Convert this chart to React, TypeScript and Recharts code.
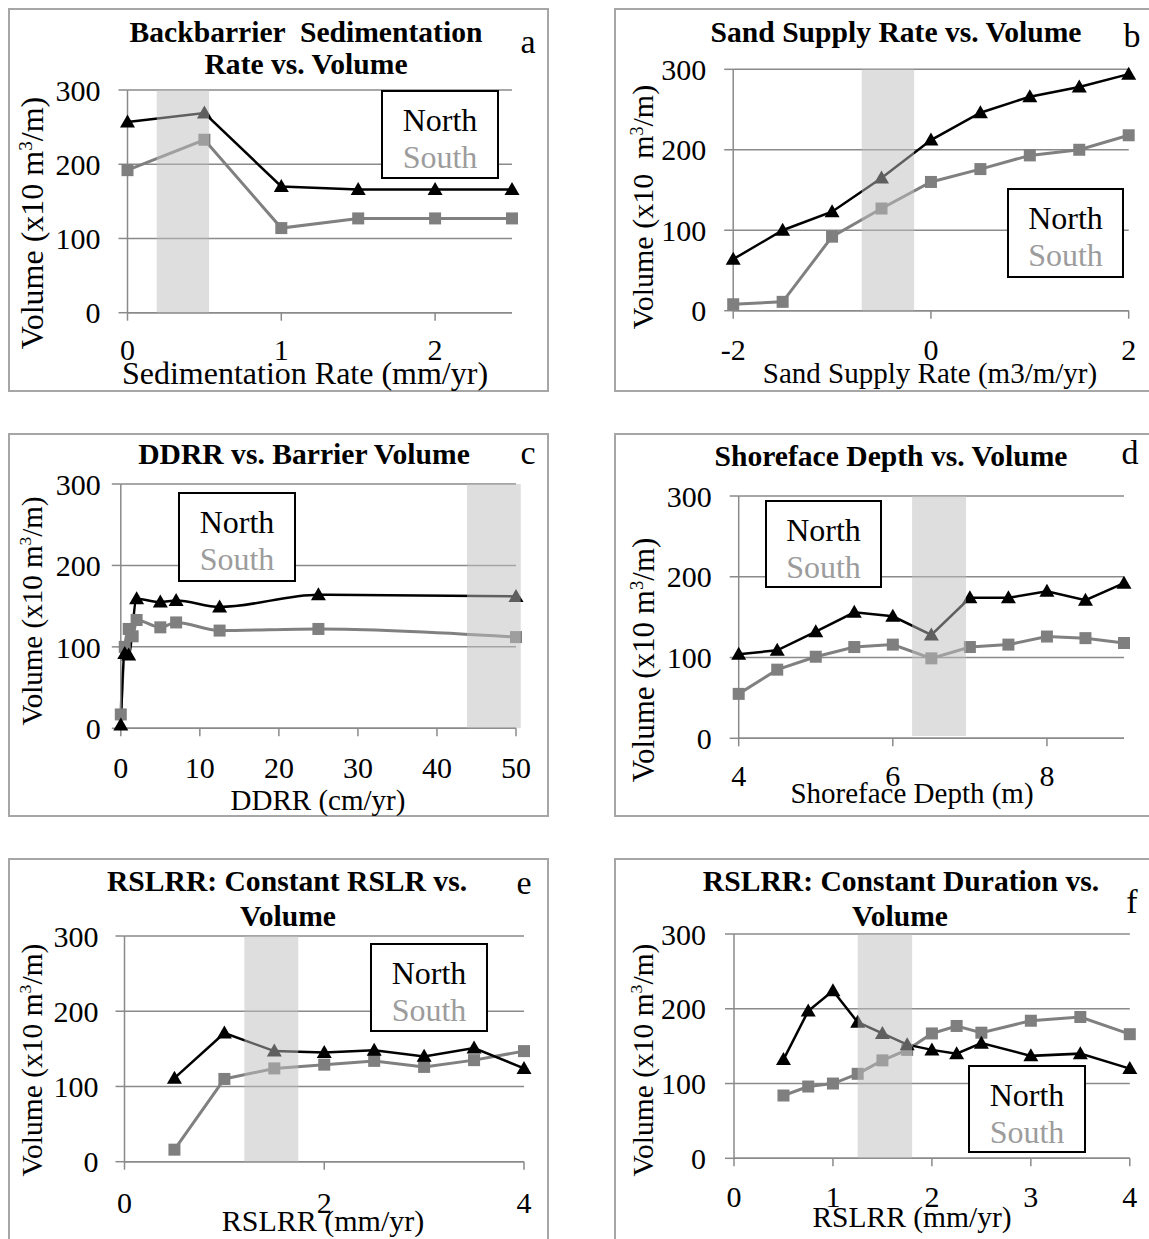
import React from "react"
import { LineChart, Line, XAxis, YAxis, CartesianGrid, ReferenceArea } from "recharts"

// ---- data (Volume, x10 m3/m) ----
// a: backbarrier sedimentation rate (mm/yr)
const aX = [0, 0.5, 1, 1.5, 2, 2.5]
const aNorth = [257, 269, 170, 166, 166, 166]
const aSouth = [192, 233, 114, 127, 127, 127]

// b: sand supply rate (m3/m/yr)
const bX = [-2, -1.5, -1, -0.5, 0, 0.5, 1, 1.5, 2]
const bNorth = [64, 100, 123, 165, 212, 246, 266, 278, 294]
const bSouth = [8, 11, 92, 127, 160, 176, 193, 200, 218]

// c: DDRR (cm/yr)
const cNorthX = [0, 0.5, 1, 2, 5, 7, 12.5, 25, 50]
const cNorth = [4, 92, 90, 159, 155, 157, 149, 164, 162]
const cSouthX = [0, 0.5, 1, 1.5, 2, 5, 7, 12.5, 25, 50]
const cSouth = [17, 100, 122, 113, 133, 124, 130, 120, 122, 112]

// d: shoreface depth (m)
const dX = [4, 4.5, 5, 5.5, 6, 6.5, 7, 7.5, 8, 8.5, 9]
const dNorth = [104, 109, 132, 156, 151, 128, 174, 174, 182, 171, 192]
const dSouth = [55, 85, 101, 113, 116, 99, 113, 116, 126, 124, 118]

// e: RSLRR, constant RSLR (mm/yr)
const eX = [0.5, 1, 1.5, 2, 2.5, 3, 3.5, 4]
const eNorth = [111, 171, 147, 145, 148, 140, 151, 124]
const eSouth = [16, 110, 124, 129, 134, 126, 135, 147]

// f: RSLRR, constant duration (mm/yr)
const fX = [0.5, 0.75, 1, 1.25, 1.5, 1.75, 2, 2.25, 2.5, 3, 3.5, 4]
const fNorth = [132, 197, 224, 182, 167, 152, 145, 140, 154, 137, 140, 120]
const fSouth = [84, 96, 100, 113, 131, 145, 167, 177, 168, 184, 189, 166]

const yTicks = [0, 100, 200, 300]

const FONT = "'Liberation Serif', 'Times New Roman', serif"
const GRID = "#8a8a8a"
const NORTH = "#000000"
const SOUTH = "#808080"

const zip = (xs: number[], vs: number[]) => xs.map((x, i) => ({ x, v: vs[i] }))

const Tri = (p: any) => {
  const { cx, cy } = p
  if (cx == null || cy == null) return <g key={p.key} />
  return (
    <polygon
      key={`t-${cx}-${cy}`}
      points={`${cx},${cy - 7.5} ${cx - 7.5},${cy + 5.5} ${cx + 7.5},${cy + 5.5}`}
      fill={NORTH}
    />
  )
}

const Sq = (p: any) => {
  const { cx, cy } = p
  if (cx == null || cy == null) return <g key={p.key} />
  return <rect key={`s-${cx}-${cy}`} x={cx - 6} y={cy - 6} width={12} height={12} fill="#7f7f7f" />
}

type Box = { x: number; y: number; w: number; h: number }

type PanelCfg = {
  box: Box
  plot: { left: number; right: number; top: number; bottom: number }
  xDomain: [number, number]
  xTicks: number[]
  band: [number, number, number]
  north: { x: number; v: number }[]
  south: { x: number; v: number }[]
  smooth?: boolean
  xTickMargin: number
  yTickMargin: number
  title: { text: string; x: number; y: number }[]
  letter: { text: string; x: number; y: number }
  legend: Box
  xTitle: { text: string; x: number; y: number; size: number }
  yTitle: { x: number; y: number; size: number; gap?: boolean }
}

const panels: PanelCfg[] = [
  {
    box: { x: 8, y: 8, w: 541, h: 384 },
    plot: { left: 127.5, right: 512, top: 90, bottom: 312.7 },
    xDomain: [0, 2.5],
    xTicks: [0, 1, 2],
    band: [0.19, 0.53, 0],
    north: zip(aX, aNorth),
    south: zip(aX, aSouth),
    xTickMargin: 18,
    yTickMargin: 18,
    title: [
      { text: "Backbarrier  Sedimentation", x: 306, y: 33 },
      { text: "Rate vs. Volume", x: 306, y: 65 },
    ],
    letter: { text: "a", x: 528, y: 42 },
    legend: { x: 381, y: 90, w: 118, h: 89 },
    xTitle: { text: "Sedimentation Rate (mm/yr)", x: 305, y: 373, size: 32 },
    yTitle: { x: 29, y: 223, size: 32 },
  },
  {
    box: { x: 614, y: 8, w: 545, h: 384 },
    plot: { left: 733.2, right: 1128.7, top: 69.3, bottom: 310.7 },
    xDomain: [-2, 2],
    xTicks: [-2, 0, 2],
    band: [-0.7, -0.17, 0],
    north: zip(bX, bNorth),
    south: zip(bX, bSouth),
    xTickMargin: 20,
    yTickMargin: 18,
    title: [{ text: "Sand Supply Rate vs. Volume", x: 896, y: 33 }],
    letter: { text: "b", x: 1132, y: 36 },
    legend: { x: 1007, y: 188, w: 117, h: 90 },
    xTitle: { text: "Sand Supply Rate (m3/m/yr)", x: 930, y: 373, size: 29 },
    yTitle: { x: 640, y: 207, size: 30, gap: true },
  },
  {
    box: { x: 8, y: 433, w: 541, h: 384 },
    plot: { left: 120.8, right: 516, top: 484, bottom: 728.3 },
    xDomain: [0, 50],
    xTicks: [0, 10, 20, 30, 40, 50],
    band: [43.8, 50.6, 0],
    north: zip(cNorthX, cNorth),
    south: zip(cSouthX, cSouth),
    smooth: true,
    xTickMargin: 20,
    yTickMargin: 11,
    title: [{ text: "DDRR vs. Barrier Volume", x: 304, y: 455 }],
    letter: { text: "c", x: 528, y: 453 },
    legend: { x: 178, y: 492, w: 118, h: 90 },
    xTitle: { text: "DDRR (cm/yr)", x: 318, y: 800, size: 29 },
    yTitle: { x: 29, y: 611, size: 29 },
  },
  {
    box: { x: 614, y: 433, w: 545, h: 384 },
    plot: { left: 738.7, right: 1124, top: 496, bottom: 738.3 },
    xDomain: [4, 9],
    xTicks: [4, 6, 8],
    band: [6.25, 6.95, 3],
    north: zip(dX, dNorth),
    south: zip(dX, dSouth),
    xTickMargin: 18,
    yTickMargin: 18,
    title: [{ text: "Shoreface Depth vs. Volume", x: 891, y: 457 }],
    letter: { text: "d", x: 1130, y: 453 },
    legend: { x: 765, y: 500, w: 117, h: 88 },
    xTitle: { text: "Shoreface Depth (m)", x: 912, y: 793, size: 29 },
    yTitle: { x: 640, y: 660, size: 31 },
  },
  {
    box: { x: 8, y: 858, w: 541, h: 400 },
    plot: { left: 124.5, right: 524, top: 936, bottom: 1161.7 },
    xDomain: [0, 4],
    xTicks: [0, 2, 4],
    band: [1.2, 1.74, 0],
    north: zip(eX, eNorth),
    south: zip(eX, eSouth),
    xTickMargin: 22,
    yTickMargin: 17,
    title: [
      { text: "RSLRR: Constant RSLR vs.", x: 287, y: 882 },
      { text: "Volume", x: 288, y: 917 },
    ],
    letter: { text: "e", x: 524, y: 883 },
    legend: { x: 370, y: 943, w: 118, h: 89 },
    xTitle: { text: "RSLRR (mm/yr)", x: 323, y: 1221, size: 30 },
    yTitle: { x: 29, y: 1060, size: 29.5 },
  },
  {
    box: { x: 614, y: 858, w: 545, h: 400 },
    plot: { left: 734, right: 1129.8, top: 934, bottom: 1158.3 },
    xDomain: [0, 4],
    xTicks: [0, 1, 2, 3, 4],
    band: [1.25, 1.8, 0],
    north: zip(fX, fNorth),
    south: zip(fX, fSouth),
    xTickMargin: 19,
    yTickMargin: 19,
    title: [
      { text: "RSLRR: Constant Duration vs.", x: 901, y: 882 },
      { text: "Volume", x: 900, y: 917 },
    ],
    letter: { text: "f", x: 1132, y: 902 },
    legend: { x: 968, y: 1065, w: 118, h: 88 },
    xTitle: { text: "RSLRR (mm/yr)", x: 912, y: 1218, size: 29.5 },
    yTitle: { x: 640, y: 1060, size: 29.5 },
  },
]

function Txt({ x, y, size, bold, color, children }: any) {
  return (
    <div
      style={{
        position: "absolute",
        left: x,
        top: y - size / 2,
        transform: "translateX(-50%)",
        fontSize: size,
        lineHeight: `${size}px`,
        fontWeight: bold ? "bold" : "normal",
        color: color || "#000",
        whiteSpace: "pre",
      }}
    >
      {children}
    </div>
  )
}

function Panel({ cfg }: { cfg: PanelCfg }) {
  const { box, plot } = cfg
  const margin = { top: plot.top - box.y, right: box.x + box.w - plot.right, left: 0, bottom: 0 }
  const yW = plot.left - box.x
  const xH = box.y + box.h - plot.bottom
  const tick = { fontSize: 30, fill: "#000", fontFamily: FONT }
  const kind = cfg.smooth ? "monotone" : "linear"

  return (
    <>
      <div
        style={{
          position: "absolute",
          left: box.x,
          top: box.y,
          width: box.w,
          height: box.h,
          border: "2px solid #a6a6a6",
          boxSizing: "border-box",
        }}
      />
      <div style={{ position: "absolute", left: box.x, top: box.y }}>
        <LineChart width={box.w} height={box.h} margin={margin}>
          <CartesianGrid vertical={false} stroke={GRID} strokeWidth={1.5} />
          <XAxis
            type="number"
            dataKey="x"
            domain={cfg.xDomain}
            ticks={cfg.xTicks}
            interval={0}
            height={xH}
            tickSize={8}
            tickMargin={cfg.xTickMargin}
            tick={tick}
            axisLine={{ stroke: GRID, strokeWidth: 1.5 }}
            tickLine={{ stroke: GRID, strokeWidth: 1.5 }}
          />
          <YAxis
            type="number"
            domain={[0, 300]}
            ticks={yTicks}
            interval={0}
            width={yW}
            tickSize={9}
            tickMargin={cfg.yTickMargin}
            tick={tick}
            axisLine={{ stroke: GRID, strokeWidth: 1.5 }}
            tickLine={{ stroke: GRID, strokeWidth: 1.5 }}
          />
          <Line
            data={cfg.south}
            dataKey="v"
            type={kind}
            stroke={SOUTH}
            strokeWidth={3}
            dot={Sq}
            activeDot={false}
            isAnimationActive={false}
          />
          <Line
            data={cfg.north}
            dataKey="v"
            type={kind}
            stroke={NORTH}
            strokeWidth={2.5}
            dot={Tri}
            activeDot={false}
            isAnimationActive={false}
          />
          <ReferenceArea
            x1={cfg.band[0]}
            x2={cfg.band[1]}
            y1={cfg.band[2]}
            y2={300}
            fill="#bdbdbd"
            fillOpacity={0.5}
            stroke="none"
            ifOverflow="visible"
            {...({ zIndex: 900 } as any)}
          />
        </LineChart>
      </div>

      {cfg.title.map((t) => (
        <Txt key={t.text} x={t.x} y={t.y} size={29.6} bold>
          {t.text}
        </Txt>
      ))}
      <Txt x={cfg.letter.x} y={cfg.letter.y} size={34}>
        {cfg.letter.text}
      </Txt>

      {/* legend box */}
      <div
        style={{
          position: "absolute",
          left: cfg.legend.x,
          top: cfg.legend.y,
          width: cfg.legend.w,
          height: cfg.legend.h,
          border: "2px solid #000",
          boxSizing: "border-box",
          background: "#fff",
        }}
      />
      <Txt x={cfg.legend.x + cfg.legend.w / 2} y={cfg.legend.y + 30} size={32}>
        North
      </Txt>
      <Txt x={cfg.legend.x + cfg.legend.w / 2} y={cfg.legend.y + 67} size={32} color="#9c9c9c">
        South
      </Txt>

      <Txt x={cfg.xTitle.x} y={cfg.xTitle.y} size={cfg.xTitle.size}>
        {cfg.xTitle.text}
      </Txt>
      <div
        style={{
          position: "absolute",
          left: cfg.yTitle.x,
          top: cfg.yTitle.y,
          transform: "translate(-50%, -50%) rotate(-90deg)",
          fontSize: cfg.yTitle.size,
          lineHeight: `${cfg.yTitle.size}px`,
          whiteSpace: "pre",
        }}
      >
        {cfg.yTitle.gap ? "Volume (x10  m" : "Volume (x10 m"}
        <span style={{ fontSize: "0.6em", verticalAlign: "0.6em" }}>3</span>
        /m)
      </div>
    </>
  )
}

export default function App() {
  return (
    <div
      style={{
        position: "relative",
        width: 1149,
        height: 1239,
        overflow: "hidden",
        background: "#fff",
        fontFamily: FONT,
        color: "#000",
      }}
    >
      <style>{"body{margin:0}"}</style>
      {panels.map((p, i) => (
        <Panel key={i} cfg={p} />
      ))}
    </div>
  )
}
